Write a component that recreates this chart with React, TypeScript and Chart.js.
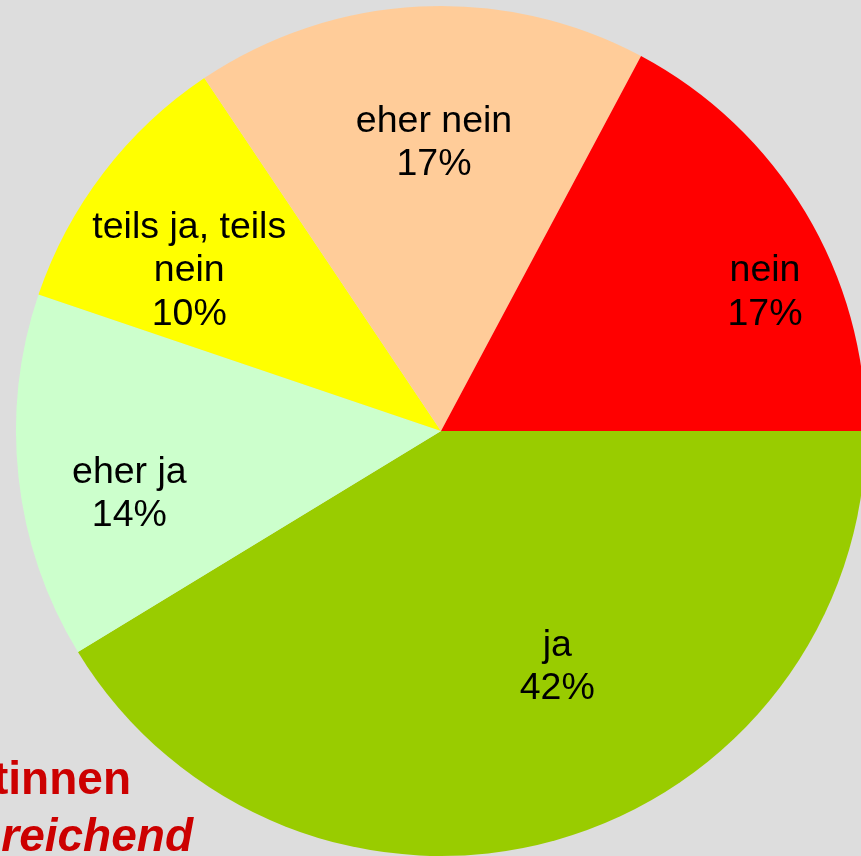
import React, { useEffect, useRef } from "react";
import { Chart, registerables } from "chart.js";

Chart.register(...registerables);

// ---- data ----
const categories = ["ja", "eher ja", "teils ja, teils\nnein", "eher nein", "nein"];
const shares = [41.3, 13.9, 10.4, 17.2, 17.2];
const percentLabels = ["42%", "14%", "10%", "17%", "17%"];
const sliceColors = ["#99CC00", "#CCFFCC", "#FFFF00", "#FFCC99", "#FF0000"];
const titleFragments = ["tinnen", "reichend"];

// ---- label placement (angle offset in degrees from slice middle, radius fraction) ----
const labelAngleOffset = [-10.8, -4.7, -4.6, 1.5, 7.5];
const labelRadiusFraction = [0.614, 0.747, 0.705, 0.683, 0.831];

const LABEL_FONT = 37.5;
const LINE_H = 43.5;
const MIDDLE_TO_BASELINE = 12.8;

const sliceLabelPlugin = {
  id: "sliceLabels",
  afterDatasetsDraw(chart: any) {
    const meta = chart.getDatasetMeta(0);
    const ctx = chart.ctx;
    ctx.save();
    ctx.fillStyle = "#000000";
    ctx.font = `${LABEL_FONT}px "Liberation Sans", Arial, sans-serif`;
    ctx.textAlign = "center";
    ctx.textBaseline = "alphabetic";
    meta.data.forEach((arc: any, i: number) => {
      const p = arc.getProps(["x", "y", "startAngle", "endAngle", "outerRadius"], true);
      const mid = (p.startAngle + p.endAngle) / 2 + (labelAngleOffset[i] * Math.PI) / 180;
      const r = p.outerRadius * labelRadiusFraction[i];
      const cx = p.x + Math.cos(mid) * r;
      const cy = p.y + Math.sin(mid) * r;
      const lines = [...categories[i].split("\n"), percentLabels[i]];
      const top = cy - ((lines.length - 1) * LINE_H) / 2;
      lines.forEach((ln, k) => ctx.fillText(ln, cx, top + k * LINE_H + MIDDLE_TO_BASELINE));
    });
    ctx.restore();
  },
};

export default function App() {
  const ref = useRef<HTMLCanvasElement | null>(null);

  useEffect(() => {
    document.body.style.margin = "0";
    document.body.style.overflow = "hidden";
    const canvas = ref.current!;
    const chart = new Chart(canvas, {
      type: "pie",
      data: {
        labels: categories.map((c) => c.replace("\n", " ")),
        datasets: [
          {
            data: shares,
            backgroundColor: sliceColors,
            borderWidth: 0,
            hoverOffset: 0,
            offset: 0,
          },
        ],
      },
      options: {
        responsive: false,
        animation: false,
        rotation: 90,
        layout: { padding: { left: 16, right: 16, top: 6, bottom: 6 } },
        plugins: {
          legend: { display: false },
          tooltip: { enabled: false },
          title: { display: false },
        },
      },
      plugins: [sliceLabelPlugin],
    });
    return () => chart.destroy();
  }, []);

  const redText: React.CSSProperties = {
    position: "absolute",
    right: 730,
    color: "#CC0000",
    fontFamily: '"Liberation Sans", Arial, sans-serif',
    fontWeight: "bold",
    fontSize: 46,
    lineHeight: "46px",
    whiteSpace: "nowrap",
    textAlign: "right",
  };

  return (
    <div
      style={{
        position: "fixed",
        left: 0,
        top: 0,
        width: 861,
        height: 856,
        overflow: "hidden",
        background: "#DDDDDD",
      }}
    >
      <canvas
        ref={ref}
        width={882}
        height={862}
        style={{ position: "absolute", left: 0, top: 0, width: 882, height: 862 }}
      />
      <div style={{ ...redText, top: 755 }}>{titleFragments[0]}</div>
      <div style={{ ...redText, top: 812, right: 668, fontStyle: "italic" }}>{titleFragments[1]}</div>
    </div>
  );
}
